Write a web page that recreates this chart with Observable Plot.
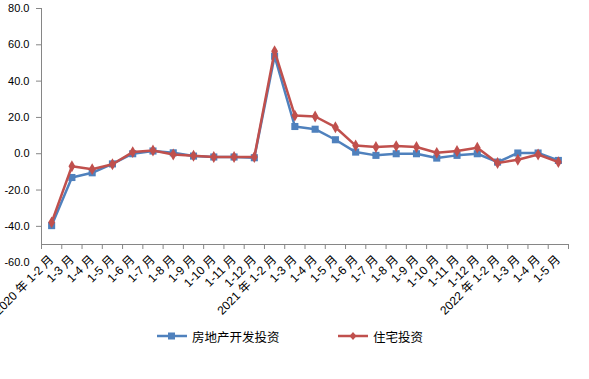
<!DOCTYPE html>
<html>
<head>
<meta charset="utf-8">
<script src="https://cdn.jsdelivr.net/npm/d3@7"></script>
<script src="https://cdn.jsdelivr.net/npm/@observablehq/plot@0.6"></script>
<style>
  body { margin: 0; background: #fff; font-family: "Liberation Sans", "Noto Sans CJK SC", Arial, sans-serif; }
  #chart { width: 589px; }
  .legend { display: flex; justify-content: flex-start; align-items: center; height: 18px; margin-top: 12px; padding-left: 157px; font-size: 12.5px; color: #000; font-family: "Noto Sans CJK SC", "Liberation Sans", sans-serif; }
  .item { display: flex; align-items: center; }
  .item svg { margin-right: 5px; }
</style>
</head>
<body>
<div id="chart"></div>
<script>
const categories = [
  "2020 年 1-2 月", "1-3 月", "1-4 月", "1-5 月", "1-6 月", "1-7 月", "1-8 月", "1-9 月", "1-10 月", "1-11 月", "1-12 月",
  "2021 年 1-2 月", "1-3 月", "1-4 月", "1-5 月", "1-6 月", "1-7 月", "1-8 月", "1-9 月", "1-10 月", "1-11 月", "1-12 月",
  "2022 年 1-2 月", "1-3 月", "1-4 月", "1-5 月"
];
const realEstate = [
  -39.6, -13.1, -10.5, -5.6, 0.0, 1.5, 0.5, -1.3, -1.8, -1.8, -2.2,
  53.7, 15.0, 13.5, 7.7, 0.9, -0.9, 0.0, 0.0, -2.4, -0.9, 0.0,
  -4.6, 0.4, 0.4, -3.7
];
const residential = [
  -37.8, -6.9, -8.5, -5.8, 0.9, 1.8, -0.4, -1.1, -1.8, -1.8, -1.8,
  56.5, 21.0, 20.5, 14.6, 4.5, 3.7, 4.2, 3.7, 0.5, 1.5, 3.3,
  -5.1, -3.3, -0.4, -4.6
];
const yTicks = [-40, -20, 0, 20, 40, 60, 80];
const yExtraLabel = [-60];
const seriesNames = ["房地产开发投资", "住宅投资"];
const colors = ["#4F81BD", "#C0504D"];

const blueData = realEstate.map((v, i) => ({ i, v }));
const redData = residential.map((v, i) => ({ i, v }));
const fmt = d => d.toFixed(1);
const n = categories.length;

const chart = Plot.plot({
  width: 589,
  height: 315,
  marginLeft: 41,
  marginRight: 21,
  marginTop: 8,
  marginBottom: 71,
  style: { fontFamily: "'Liberation Sans', 'Noto Sans CJK SC', Arial, sans-serif", fontSize: "11px", color: "#000", background: "#fff", overflow: "visible" },
  x: { type: "linear", domain: [0, n] },
  y: { domain: [-50, 80] },
  marks: [
    Plot.ruleX([0], { y1: -50, y2: 80, stroke: "#868686" }),
    Plot.ruleY([-50], { stroke: "#868686" }),
    Plot.axisY({ ticks: yTicks, tickSize: 5, tickPadding: 7, tickFormat: fmt, stroke: "#868686", fill: "#000", label: null, fontSize: 11 }),
    Plot.text(yExtraLabel, { x: 0, y: d => d, text: d => fmt(d), textAnchor: "end", dx: -12, fill: "#000", fontSize: 11 }),
    Plot.axisX({ ticks: d3.range(n + 1), tickSize: 5, tickFormat: () => "", stroke: "#868686", label: null }),
    Plot.axisX({ ticks: d3.range(n).map(i => i + 0.5), tickSize: 0, tickPadding: 13, tickRotate: -45, tickFormat: d => categories[Math.floor(d)], fill: "#000", label: null, fontSize: 12 }),
    Plot.line(blueData, { x: d => d.i + 0.5, y: "v", stroke: colors[0], strokeWidth: 2.5 }),
    Plot.dot(blueData, { x: d => d.i + 0.5, y: "v", symbol: "square", r: 4, fill: colors[0], stroke: "none" }),
    Plot.line(redData, { x: d => d.i + 0.5, y: "v", stroke: colors[1], strokeWidth: 2.5 }),
    Plot.dot(redData, { x: d => d.i + 0.5, y: "v", symbol: "diamond", r: 3.6, fill: colors[1], stroke: "none" })
  ]
});
document.getElementById("chart").appendChild(chart);

const legend = document.createElement("div");
legend.className = "legend";
const markerSvg = (k) => k === 0
  ? `<svg width="30" height="10"><line x1="0" y1="5" x2="30" y2="5" stroke="${colors[0]}" stroke-width="2.5"/><rect x="11" y="1.5" width="7" height="7" fill="${colors[0]}"/></svg>`
  : `<svg width="30" height="10"><line x1="0" y1="5" x2="30" y2="5" stroke="${colors[1]}" stroke-width="2.5"/><path d="M15,1 L18.5,5 L15,9 L11.5,5 Z" fill="${colors[1]}"/></svg>`;
legend.innerHTML = seriesNames.map((s, k) =>
  `<span class="item" style="${k === 0 ? 'width:181px' : ''}">${markerSvg(k)}<span>${s}</span></span>`
).join("");
document.getElementById("chart").appendChild(legend);
</script>
</body>
</html>
